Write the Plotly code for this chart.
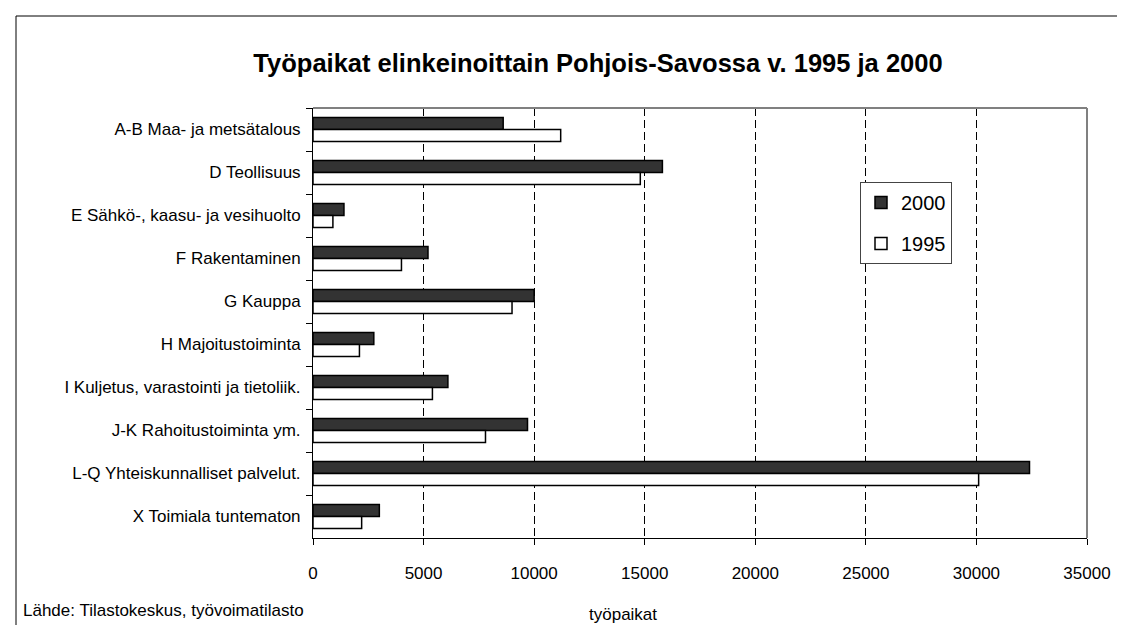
import plotly.graph_objects as go

categories = [
    "A-B Maa- ja metsätalous",
    "D Teollisuus",
    "E Sähkö-, kaasu- ja vesihuolto",
    "F Rakentaminen",
    "G Kauppa",
    "H Majoitustoiminta",
    "I Kuljetus, varastointi ja tietoliik.",
    "J-K Rahoitustoiminta ym.",
    "L-Q Yhteiskunnalliset palvelut.",
    "X Toimiala tuntematon",
]
values_2000 = [8600, 15800, 1400, 5200, 10000, 2750, 6100, 9700, 32400, 3000]
values_1995 = [11200, 14800, 900, 4000, 9000, 2100, 5400, 7800, 30100, 2200]
x_ticks = [0, 5000, 10000, 15000, 20000, 25000, 30000, 35000]

FONT = "Liberation Sans, Arial, sans-serif"

fig = go.Figure()
fig.add_trace(go.Bar(
    y=categories, x=values_2000, orientation="h", name="2000",
    marker=dict(color="#333333", line=dict(color="#000000", width=1.5)),
    legendgroup="a",
))
fig.add_trace(go.Bar(
    y=categories, x=values_1995, orientation="h", name="1995",
    marker=dict(color="#ffffff", line=dict(color="#000000", width=1.5)),
    legendgroup="b",
))

L, T, R, B = 305, 100, 1079, 530
W, H = 1125, 625

def px(xp):
    return (xp - L) / (R - L)

def py(yp):
    return (B - yp) / (B - T)

fig.update_layout(
    width=W, height=H,
    margin=dict(l=L, r=W - R, t=T, b=H - B, autoexpand=False),
    paper_bgcolor="white", plot_bgcolor="white",
    barmode="group", bargap=0.44, bargroupgap=0,
    font=dict(family=FONT, color="black", size=16),
    title=dict(
        text="<b>Työpaikat elinkeinoittain Pohjois-Savossa v. 1995 ja 2000</b>",
        x=590 / W, xanchor="center", xref="container",
        y=1 - 55 / H, yanchor="middle", yref="container",
        font=dict(family=FONT, size=25.5, color="black"),
    ),
    legend=dict(
        x=px(852), y=py(174), xanchor="left", yanchor="top",
        bordercolor="#444444", borderwidth=1, bgcolor="white",
        font=dict(family=FONT, size=20, color="black"),
        traceorder="grouped", tracegroupgap=12,
    ),
    showlegend=True,
)

fig.update_xaxes(
    range=[0, 35000], tickvals=x_ticks, ticktext=[str(v) for v in x_ticks],
    showline=True, linecolor="black", linewidth=1,
    ticks="outside", ticklen=6, tickcolor="black",
    showgrid=True, gridcolor="black", gridwidth=1, griddash="8px,4px",
    zeroline=False, tickfont=dict(size=17), ticklabelstandoff=14,
)
fig.update_yaxes(
    type="category", autorange="reversed",
    showline=True, linecolor="black", linewidth=1,
    ticks="outside", ticklen=6, tickcolor="black", tickson="boundaries",
    showgrid=False, tickfont=dict(size=17), ticklabelstandoff=8,
)

# gray top and right frame of plot area
fig.add_shape(type="line", xref="paper", yref="paper", x0=0, x1=1, y0=1, y1=1,
              line=dict(color="#808080", width=2))
fig.add_shape(type="line", xref="paper", yref="paper", x0=1, x1=1, y0=0, y1=1,
              line=dict(color="#808080", width=2))
# outer chart border
fig.add_shape(type="rect", xref="paper", yref="paper",
              x0=px(8), x1=px(1117), y0=py(660), y1=py(8),
              line=dict(color="black", width=1), fillcolor="rgba(0,0,0,0)")

fig.add_annotation(text="työpaikat", xref="paper", yref="paper",
                   x=px(615), y=py(606), xanchor="center", yanchor="middle",
                   showarrow=False, font=dict(size=17))
fig.add_annotation(text="Lähde: Tilastokeskus, työvoimatilasto", xref="paper", yref="paper",
                   x=px(13), y=py(602), xanchor="left", yanchor="middle",
                   showarrow=False, font=dict(size=17))

fig.write_html("out.html")
